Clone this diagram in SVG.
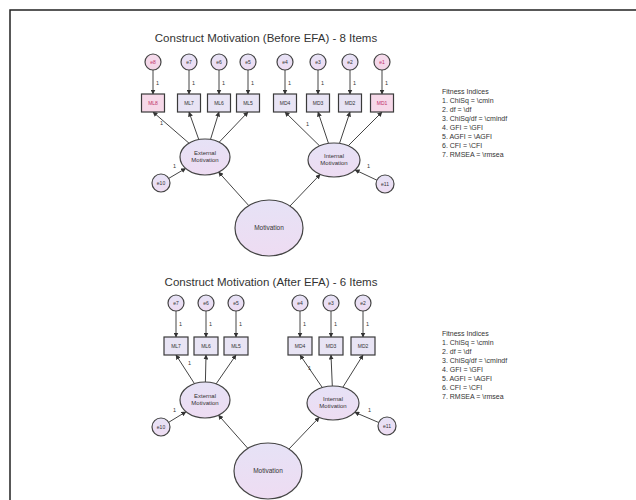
<svg xmlns="http://www.w3.org/2000/svg" width="636" height="500" viewBox="0 0 636 500">
<defs>
<linearGradient id="g" x1="0" y1="0" x2="0" y2="1"><stop offset="0" stop-color="#e6e2f6"/><stop offset="1" stop-color="#eedcf2"/></linearGradient>
<linearGradient id="gp" x1="0" y1="0" x2="0" y2="1"><stop offset="0" stop-color="#f6dcec"/><stop offset="1" stop-color="#f2d4e6"/></linearGradient>
<marker id="a" viewBox="0 0 10 10" refX="9" refY="5" markerWidth="5" markerHeight="5" markerUnits="userSpaceOnUse" orient="auto"><path d="M0,0L10,5L0,10z" fill="#333"/></marker>
<style>
.o{fill:url(#g);stroke:#444;stroke-width:1.2}
.op{fill:url(#gp);stroke:#444;stroke-width:1.2}
.b{fill:#e8e4f4;stroke:#3a3a3a;stroke-width:1.2}
.bp{fill:#f6d8e8;stroke:#3a3a3a;stroke-width:1.2}
.t{font-family:"Liberation Sans",Arial,sans-serif;fill:#333;text-anchor:middle}
.s{font-size:5px}
.sp{font-size:5px;fill:#c0306a}
.l{font-size:6.5px}
.m{font-size:6px}
.n{font-family:"Liberation Sans",Arial,sans-serif;font-size:5.5px;fill:#333}
.h{font-family:"Liberation Sans",Arial,sans-serif;font-size:11.5px;fill:#333;text-anchor:middle}
.f{font-family:"Liberation Sans",Arial,sans-serif;font-size:7px;fill:#333}
#c line{stroke:#444;stroke-width:1;marker-end:url(#a)}
</style>
</defs>
<rect x="0" y="0" width="636" height="500" fill="#fff"/>
<rect x="10" y="10" width="700" height="600" fill="none" stroke="#222" stroke-width="1.5"/>

<text class="h" x="266" y="42">Construct Motivation (Before EFA) - 8 Items</text>
<text class="h" x="271" y="286">Construct Motivation (After EFA) - 6 Items</text>

<g id="c">
<line x1="153" y1="70" x2="153" y2="94"/><line x1="189" y1="70" x2="189" y2="94"/><line x1="219" y1="70" x2="219" y2="94"/><line x1="248" y1="70" x2="248" y2="94"/>
<line x1="285" y1="70" x2="285" y2="94"/><line x1="318" y1="70" x2="318" y2="94"/><line x1="350" y1="70" x2="350" y2="94"/><line x1="382" y1="70" x2="382" y2="94"/>
<line x1="189" y1="143.2" x2="153" y2="112"/><line x1="198.8" y1="139.6" x2="189" y2="112"/><line x1="210.5" y1="139.4" x2="219" y2="112"/><line x1="219.2" y1="142.2" x2="248" y2="112"/>
<line x1="319.6" y1="145.9" x2="285" y2="112"/><line x1="328.5" y1="143.4" x2="318" y2="112"/><line x1="339.5" y1="143.4" x2="350" y2="112"/><line x1="348.2" y1="145.8" x2="382" y2="112"/>
<line x1="168.7" y1="178.4" x2="185.7" y2="168.4"/><line x1="376.9" y1="180.2" x2="355.1" y2="169.9"/>
<line x1="248.7" y1="205.5" x2="218.6" y2="172.1"/><line x1="290" y1="206" x2="320.2" y2="174.4"/>
<line x1="176" y1="311" x2="176" y2="337"/><line x1="206" y1="311" x2="206" y2="337"/><line x1="236" y1="311" x2="236" y2="337"/>
<line x1="300" y1="311" x2="300" y2="337"/><line x1="331" y1="311" x2="331" y2="337"/><line x1="363" y1="311" x2="363" y2="337"/>
<line x1="194.5" y1="383.7" x2="176" y2="355"/><line x1="205.4" y1="382" x2="206" y2="355"/><line x1="216.1" y1="383.9" x2="236" y2="355"/>
<line x1="322.3" y1="387.5" x2="300" y2="355"/><line x1="332.3" y1="386" x2="331" y2="355"/><line x1="342.8" y1="387.3" x2="363" y2="355"/>
<line x1="168.7" y1="422.3" x2="186" y2="411.7"/><line x1="378.7" y1="422.5" x2="354.8" y2="412.3"/>
<line x1="247.9" y1="448.4" x2="218.5" y2="415.2"/><line x1="289" y1="449" x2="319.2" y2="417.4"/>
</g>

<g id="ones">
<text class="n" x="156" y="85">1</text><text class="n" x="192" y="85">1</text><text class="n" x="222" y="85">1</text><text class="n" x="251" y="85">1</text>
<text class="n" x="288" y="85">1</text><text class="n" x="321" y="85">1</text><text class="n" x="353" y="85">1</text><text class="n" x="385" y="85">1</text>
<text class="n" x="160" y="125">1</text><text class="n" x="306" y="126">1</text>
<text class="n" x="173" y="168">1</text><text class="n" x="367" y="168">1</text>
<text class="n" x="179" y="326">1</text><text class="n" x="209" y="326">1</text><text class="n" x="239" y="326">1</text>
<text class="n" x="303" y="326">1</text><text class="n" x="334" y="326">1</text><text class="n" x="366" y="326">1</text>
<text class="n" x="188" y="365">1</text><text class="n" x="308" y="370">1</text>
<text class="n" x="173" y="412">1</text><text class="n" x="368" y="412">1</text>
</g>

<g id="e8"><circle class="op" cx="153" cy="62" r="8"/><text class="t sp" x="153" y="64">e8</text></g>
<g id="e7"><circle class="o" cx="189" cy="62" r="8"/><text class="t s" x="189" y="64">e7</text></g>
<g id="e6"><circle class="o" cx="219" cy="62" r="8"/><text class="t s" x="219" y="64">e6</text></g>
<g id="e5"><circle class="o" cx="248" cy="62" r="8"/><text class="t s" x="248" y="64">e5</text></g>
<g id="e4"><circle class="o" cx="285" cy="62" r="8"/><text class="t s" x="285" y="64">e4</text></g>
<g id="e3"><circle class="o" cx="318" cy="62" r="8"/><text class="t s" x="318" y="64">e3</text></g>
<g id="e2"><circle class="o" cx="350" cy="62" r="8"/><text class="t s" x="350" y="64">e2</text></g>
<g id="e1"><circle class="op" cx="382" cy="62" r="8"/><text class="t sp" x="382" y="64">e1</text></g>

<g id="ML8"><rect class="bp" x="141.5" y="94" width="23" height="18"/><text class="t sp" x="153" y="104.5">ML8</text></g>
<g id="ML7"><rect class="b" x="177.5" y="94" width="23" height="18"/><text class="t s" x="189" y="104.5">ML7</text></g>
<g id="ML6"><rect class="b" x="207.5" y="94" width="23" height="18"/><text class="t s" x="219" y="104.5">ML6</text></g>
<g id="ML5"><rect class="b" x="236.5" y="94" width="23" height="18"/><text class="t s" x="248" y="104.5">ML5</text></g>
<g id="MD4"><rect class="b" x="273.5" y="94" width="23" height="18"/><text class="t s" x="285" y="104.5">MD4</text></g>
<g id="MD3"><rect class="b" x="306.5" y="94" width="23" height="18"/><text class="t s" x="318" y="104.5">MD3</text></g>
<g id="MD2"><rect class="b" x="338.5" y="94" width="23" height="18"/><text class="t s" x="350" y="104.5">MD2</text></g>
<g id="MD1"><rect class="bp" x="370.5" y="94" width="23" height="18"/><text class="t sp" x="382" y="104.5">MD1</text></g>

<g id="ExtMot"><ellipse class="o" cx="205" cy="157" rx="25" ry="18"/><text class="t m" x="205" y="155">External</text><text class="t m" x="205" y="162">Motivation</text></g>
<g id="IntMot"><ellipse class="o" cx="334" cy="160" rx="26" ry="17"/><text class="t m" x="334" y="158">Internal</text><text class="t m" x="334" y="165">Motivation</text></g>
<g id="e10"><circle class="o" cx="161" cy="183" r="9"/><text class="t s" x="161" y="185">e10</text></g>
<g id="e11"><circle class="o" cx="385" cy="184" r="9"/><text class="t s" x="385" y="186">e11</text></g>
<g id="Mot"><ellipse class="o" cx="269" cy="228" rx="34" ry="28"/><text class="t l" x="269" y="230">Motivation</text></g>

<g id="b_e7"><circle class="o" cx="176" cy="303" r="8"/><text class="t s" x="176" y="305">e7</text></g>
<g id="b_e6"><circle class="o" cx="206" cy="303" r="8"/><text class="t s" x="206" y="305">e6</text></g>
<g id="b_e5"><circle class="o" cx="236" cy="303" r="8"/><text class="t s" x="236" y="305">e5</text></g>
<g id="b_e4"><circle class="o" cx="300" cy="303" r="8"/><text class="t s" x="300" y="305">e4</text></g>
<g id="b_e3"><circle class="o" cx="331" cy="303" r="8"/><text class="t s" x="331" y="305">e3</text></g>
<g id="b_e2"><circle class="o" cx="363" cy="303" r="8"/><text class="t s" x="363" y="305">e2</text></g>

<g id="b_ML7"><rect class="b" x="164" y="337" width="24" height="18"/><text class="t s" x="176" y="347.5">ML7</text></g>
<g id="b_ML6"><rect class="b" x="194" y="337" width="24" height="18"/><text class="t s" x="206" y="347.5">ML6</text></g>
<g id="b_ML5"><rect class="b" x="224" y="337" width="24" height="18"/><text class="t s" x="236" y="347.5">ML5</text></g>
<g id="b_MD4"><rect class="b" x="288" y="337" width="24" height="18"/><text class="t s" x="300" y="347.5">MD4</text></g>
<g id="b_MD3"><rect class="b" x="319" y="337" width="24" height="18"/><text class="t s" x="331" y="347.5">MD3</text></g>
<g id="b_MD2"><rect class="b" x="351" y="337" width="24" height="18"/><text class="t s" x="363" y="347.5">MD2</text></g>

<g id="b_ExtMot"><ellipse class="o" cx="205" cy="400" rx="25" ry="18"/><text class="t m" x="205" y="398">External</text><text class="t m" x="205" y="405">Motivation</text></g>
<g id="b_IntMot"><ellipse class="o" cx="333" cy="403" rx="26" ry="17"/><text class="t m" x="333" y="401">Internal</text><text class="t m" x="333" y="408">Motivation</text></g>
<g id="b_e10"><circle class="o" cx="161" cy="427" r="9"/><text class="t s" x="161" y="429">e10</text></g>
<g id="b_e11"><circle class="o" cx="387" cy="426" r="9"/><text class="t s" x="387" y="428">e11</text></g>
<g id="b_Mot"><ellipse class="o" cx="268" cy="471" rx="34" ry="28"/><text class="t l" x="268" y="473">Motivation</text></g>

<g id="fit1">
<text class="f" x="442" y="94">Fitness Indices</text>
<text class="f" x="442" y="103">1.  ChiSq = \cmin</text>
<text class="f" x="442" y="112">2.  df = \df</text>
<text class="f" x="442" y="121">3.  ChiSq/df = \cmindf</text>
<text class="f" x="442" y="130">4.  GFI = \GFI</text>
<text class="f" x="442" y="139">5.  AGFI = \AGFI</text>
<text class="f" x="442" y="148">6.  CFI = \CFI</text>
<text class="f" x="442" y="157">7.  RMSEA = \rmsea</text>
</g>
<g id="fit2">
<text class="f" x="442" y="336">Fitness Indices</text>
<text class="f" x="442" y="345">1.  ChiSq = \cmin</text>
<text class="f" x="442" y="354">2.  df = \df</text>
<text class="f" x="442" y="363">3.  ChiSq/df = \cmindf</text>
<text class="f" x="442" y="372">4.  GFI = \GFI</text>
<text class="f" x="442" y="381">5.  AGFI = \AGFI</text>
<text class="f" x="442" y="390">6.  CFI = \CFI</text>
<text class="f" x="442" y="399">7.  RMSEA = \rmsea</text>
</g>
</svg>
